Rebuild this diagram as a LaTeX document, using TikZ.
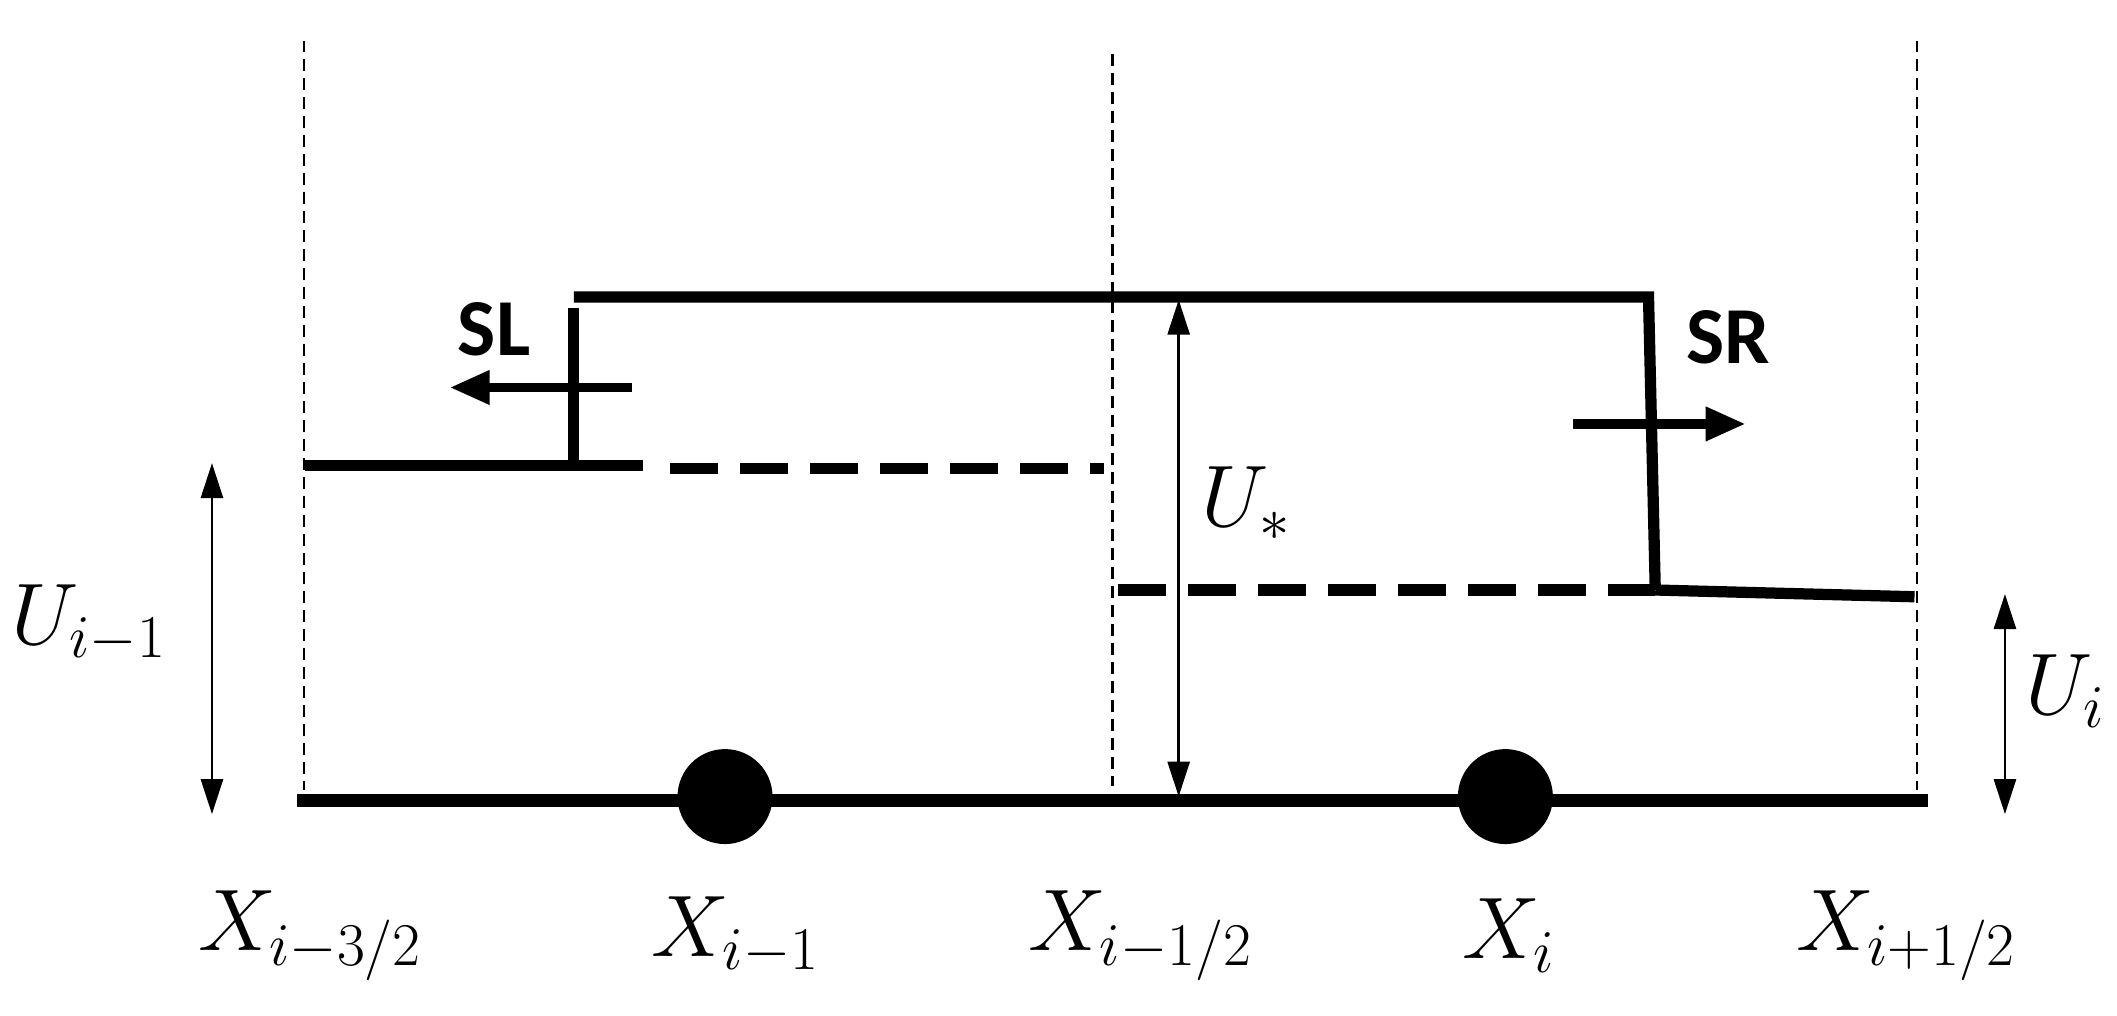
\documentclass[tikz,border=0pt]{standalone}
\usepackage{fontspec}
\newfontfamily\labelfont{Carlito}
\usetikzlibrary{arrows.meta}

\begin{document}
\begin{tikzpicture}[x=0.0135cm,y=-0.0135cm,
    level/.style={line width=3.2pt},
    levdash/.style={line width=3.2pt, dash pattern=on 0.48cm off 0.22cm},
    cellline/.style={line width=0.7pt, dash pattern=on 0.12cm off 0.07cm},
    speed/.style={line width=2.7pt, -{Triangle[length=0.4cm,width=0.32cm]}},
    height/.style={line width=0.8pt, {Triangle[length=0.35cm,width=0.22cm]}-{Triangle[length=0.35cm,width=0.22cm]}},
    mathlbl/.style={font=\fontsize{23}{27}\selectfont},
    wavelbl/.style={font=\labelfont\bfseries\fontsize{23}{27}\selectfont}]
    \useasboundingbox (0,0) rectangle (1568,752);

    % Define coordinates
    \coordinate (B0) at (220,593);
    \coordinate (B1) at (1428,593);
    \coordinate (LT) at (425,220);
    \coordinate (RT) at (1221,220);
    \coordinate (LV) at (425,228);
    \coordinate (LB) at (425,345);
    \coordinate (RB) at (1226,437);
    \coordinate (L0) at (226,345);
    \coordinate (L1) at (476,345);
    \coordinate (LD) at (496,347);
    \coordinate (LM) at (818,347);
    \coordinate (R0) at (828,437);
    \coordinate (R1) at (1418,442);

    % Cell boundaries (dotted)
    \draw[cellline] (225,30) -- (225,585);
    \draw[cellline] (824,40) -- (824,582);
    \draw[cellline] (1420,30) -- (1420,585);

    % Base line and cell centres
    \draw[line width=3.9pt] (B0) -- (B1);
    \node[circle, fill=black, minimum size=0.95cm, inner sep=0pt] (C0) at (537,590) {};
    \node[circle, fill=black, minimum size=0.95cm, inner sep=0pt] (C1) at (1115,590) {};

    % Star state and the left/right waves
    \draw[level] (LT) -- (RT) -- (RB);
    \draw[level] (LV) -- (LB);

    % Left state
    \draw[level] (L0) -- (L1);
    \draw[levdash] (LD) -- (LM);

    % Right state
    \draw[levdash] (R0) -- (RB);
    \draw[level] (RB) -- (R1);

    % Wave speeds
    \coordinate (SLa) at (468,287);
    \coordinate (SLb) at (333,287);
    \coordinate (SRa) at (1165,314);
    \coordinate (SRb) at (1293,314);
    \draw[speed] (SLa) -- (SLb);
    \draw[speed] (SRa) -- (SRb);
    \node[wavelbl] (SL) at (366,244) {SL};
    \node[wavelbl] (SR) at (1280,250) {SR};

    % Heights
    \coordinate (Ua) at (157,343);
    \coordinate (Ub) at (157,603);
    \coordinate (Uc) at (873,222);
    \coordinate (Ud) at (873,590);
    \coordinate (Ue) at (1485,440);
    \coordinate (Uf) at (1485,603);
    \draw[height] (Ua) -- (Ub);
    \draw[height] (Uc) -- (Ud);
    \draw[height] (Ue) -- (Uf);
    \node[mathlbl] (Ul) at (66,462) {$U_{i-1}$};
    \node[mathlbl] (Us) at (923,373) {$U_*$};
    \node[mathlbl] (Ur) at (1530,512) {$U_i$};

    % Positions
    \node[mathlbl] (X0) at (230,693) {$X_{i-3/2}$};
    \node[mathlbl] (X1) at (545,693) {$X_{i-1}$};
    \node[mathlbl] (X2) at (845,693) {$X_{i-1/2}$};
    \node[mathlbl] (X3) at (1118,693) {$X_i$};
    \node[mathlbl] (X4) at (1412,693) {$X_{i+1/2}$};
\end{tikzpicture}
\end{document}
